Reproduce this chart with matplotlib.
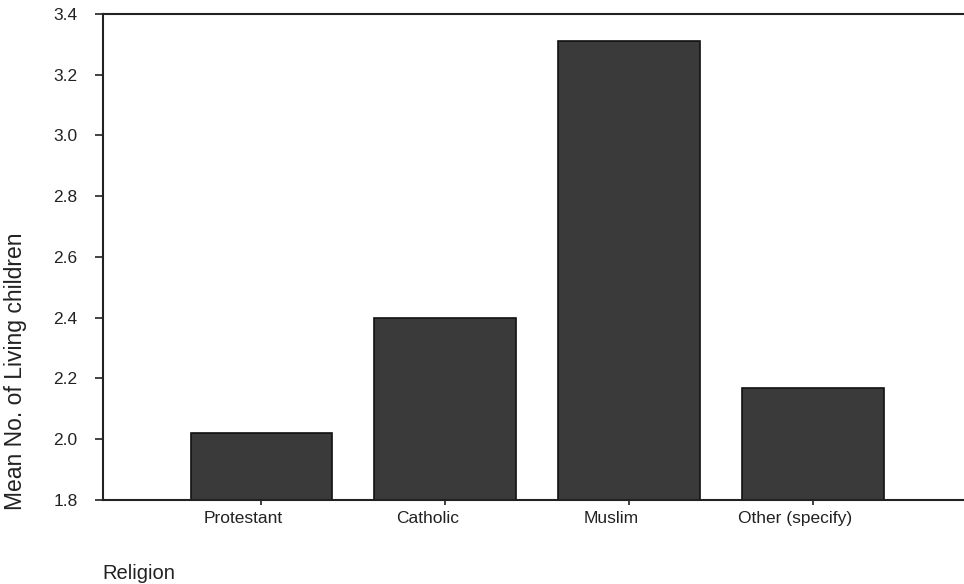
import matplotlib
matplotlib.use("Agg")
from matplotlib import pyplot as plt
import matplotlib.transforms as mtransforms
import numpy as np

religions = ["Protestant", "Catholic", "Muslim", "Other (specify)"]
mean_children = [2.02, 2.40, 3.31, 2.17]
y_ticks = [1.8, 2.0, 2.2, 2.4, 2.6, 2.8, 3.0, 3.2, 3.4]

plt.rcParams['font.family'] = ['Liberation Sans', 'DejaVu Sans']
ink = "#222222"

fig = plt.figure(figsize=(9.64, 5.84), dpi=100)
ax = fig.add_axes([0.107, 0.144, 0.893, 0.832])

x = np.arange(len(religions))
ax.bar(x, mean_children, width=0.77, bottom=0, color="#3a3a3a",
       edgecolor="#111111", linewidth=1.2, zorder=2)

ax.set_ylim(1.8, 3.4)
ax.set_xlim(-0.86, 3.82)
ax.set_yticks(y_ticks)
ax.set_yticklabels([f"{v:.1f}" for v in y_ticks], fontsize=12.5)
ax.set_xticks(x)
ax.set_xticklabels([])

# category labels sit a little left of their ticks in the original
shift = mtransforms.ScaledTranslation(-0.18, -0.11, fig.dpi_scale_trans)
for xi, name in zip(x, religions):
    ax.text(xi, 0, name, transform=ax.get_xaxis_transform() + shift,
            ha="center", va="top", fontsize=12.5, color=ink)

ax.tick_params(axis="y", direction="out", length=5.8, width=1.2, pad=12.5, colors=ink)
ax.tick_params(axis="x", direction="out", length=3.6, width=1.2, colors=ink)

for side in ["left", "top", "bottom"]:
    ax.spines[side].set_linewidth(1.5)
    ax.spines[side].set_color(ink)
ax.spines["right"].set_visible(False)

ax.set_ylabel("Mean No. of Living children", fontsize=16.5, color=ink)
ax.yaxis.set_label_coords(-0.088, 0.265)
fig.text(0.106, 0.008, "Religion", fontsize=14.5, color=ink)

fig.savefig("out.png", dpi=100)
